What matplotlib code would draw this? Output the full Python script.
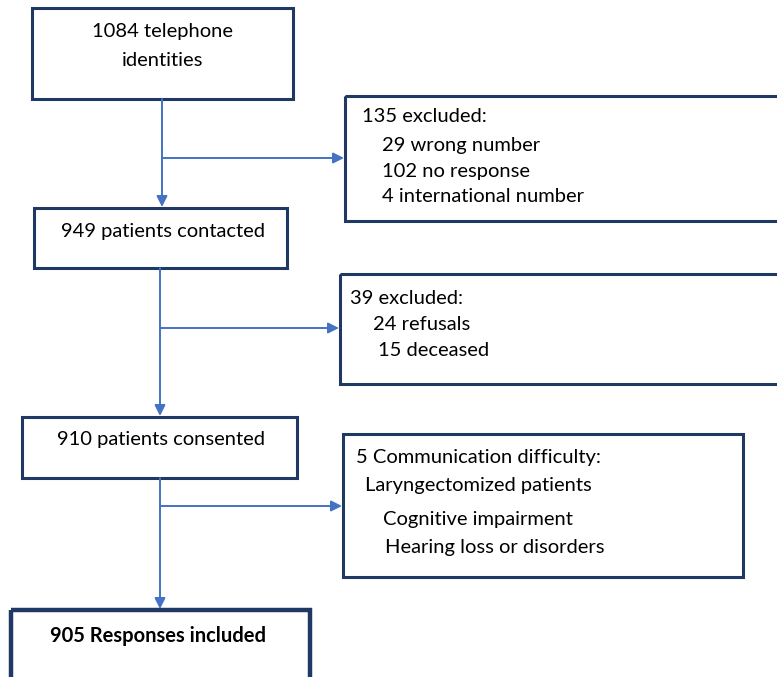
import matplotlib
matplotlib.use("Agg")
from matplotlib import pyplot as plt
from matplotlib.patches import Rectangle

plt.rcParams['font.family'] = ['Lato', 'DejaVu Sans']

# flow numbers
n_identities = 1084
n_contacted = 949
n_consented = 910
n_included = 905

excl_1 = ["135 excluded:", "29 wrong number", "102 no response", "4 international number"]
excl_2 = ["39 excluded:", "24 refusals", "15 deceased"]
excl_3 = ["5 Communication difficulty:", "Laryngectomized patients",
          "Cognitive impairment", "Hearing loss or disorders"]

navy = "#1f3864"
blue = "#4472c4"

fig = plt.figure(figsize=(7.77, 6.77), dpi=100)
ax = fig.add_axes([0, 0, 1, 1])
ax.set_xlim(0, 777)
ax.set_ylim(677, 0)
ax.axis("off")


def box(x0, y0, x1, y1, lw=2.2):
    ax.add_patch(Rectangle((x0, y0), x1 - x0, y1 - y0, fill=False,
                           edgecolor=navy, linewidth=lw, clip_on=False))


def arrow(x0, y0, x1, y1):
    ax.annotate("", xy=(x1, y1), xytext=(x0, y0),
                arrowprops=dict(arrowstyle="-|>", color=blue, lw=1.4,
                                mutation_scale=16, shrinkA=0, shrinkB=0))


fs = 14.5

# main boxes
box(32, 8, 293, 99)
ax.text(163, 31, f"{n_identities} telephone", ha="center", va="center", fontsize=fs)
ax.text(163, 61, "identities", ha="center", va="center", fontsize=fs)

box(34, 208, 287, 268)
ax.text(61, 231, f"{n_contacted} patients contacted", ha="left", va="center", fontsize=fs)

box(22, 417, 297, 478)
ax.text(57, 440, f"{n_consented} patients consented", ha="left", va="center", fontsize=fs)

box(11, 610, 310, 700, lw=3.2)
ax.text(50, 636, f"{n_included} Responses included", ha="left", va="center",
        fontsize=fs, fontweight="bold")

# exclusion boxes
box(345, 96, 790, 221)
for (x, y), s in zip([(362, 117), (382, 146), (382, 172), (382, 197)], excl_1):
    ax.text(x, y, s, ha="left", va="center", fontsize=fs)

box(340, 274, 790, 384)
for (x, y), s in zip([(350, 298), (373, 325), (378, 351)], excl_2):
    ax.text(x, y, s, ha="left", va="center", fontsize=fs)

box(343, 434, 743, 577)
for (x, y), s in zip([(356, 458), (365, 485), (383, 520), (385, 547)], excl_3):
    ax.text(x, y, s, ha="left", va="center", fontsize=fs)

# connectors
arrow(162, 99, 162, 207)
arrow(162, 158, 344, 158)
arrow(160, 268, 160, 416)
arrow(160, 328, 339, 328)
arrow(160, 478, 160, 609)
arrow(160, 506, 342, 506)

fig.savefig("out.png", dpi=100)
